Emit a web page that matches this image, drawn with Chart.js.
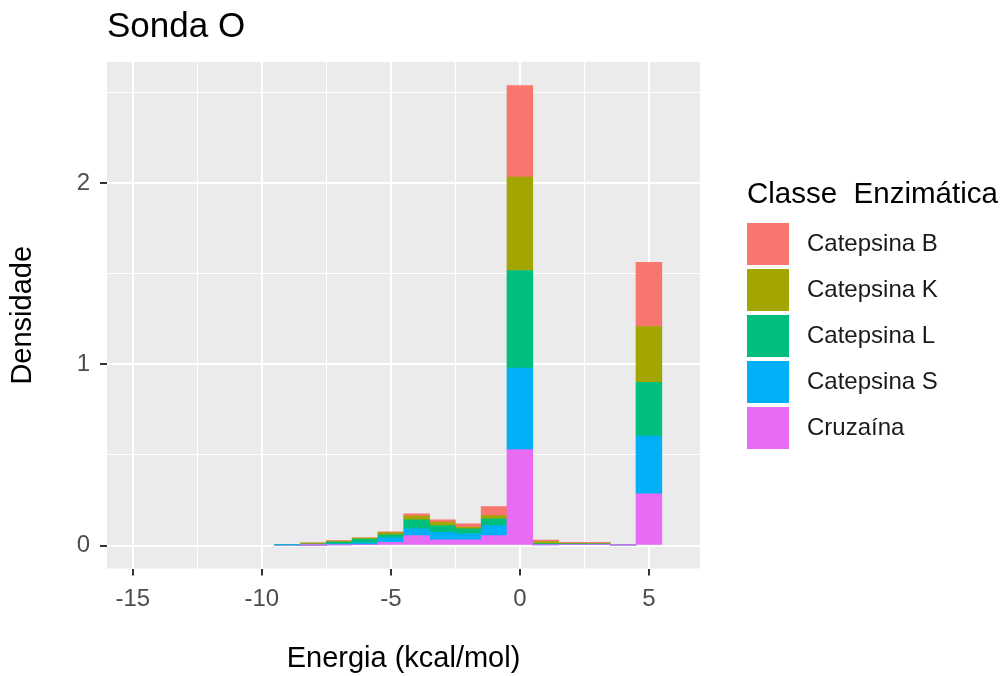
<!DOCTYPE html>
<html>
<head>
<meta charset="utf-8">
<title>Sonda O</title>
<script src="https://cdn.jsdelivr.net/npm/chart.js@4.4.1/dist/chart.umd.min.js"></script>
<style>
  html, body { margin: 0; padding: 0; background: #ffffff; }
  #wrap { width: 1005px; height: 676px; }
</style>
</head>
<body>
<div id="wrap"><canvas id="chart" width="1005" height="676"></canvas></div>
<script>
// Histogram bins (centre of each 1 kcal/mol bin)
const binCenters = [-9, -8, -7, -6, -5, -4, -3, -2, -1, 0, 1, 2, 3, 4, 5];

// Density per enzyme class, one value per bin
const catepsinaB = [0.000, 0.002, 0.002, 0.002, 0.004, 0.013, 0.012, 0.018, 0.050, 0.506, 0.008, 0.006, 0.006, 0.002, 0.355];
const catepsinaK = [0.002, 0.005, 0.006, 0.006, 0.012, 0.020, 0.020, 0.010, 0.018, 0.516, 0.012, 0.003, 0.002, 0.001, 0.308];
const catepsinaL = [0.002, 0.004, 0.010, 0.020, 0.015, 0.050, 0.037, 0.028, 0.037, 0.539, 0.004, 0.002, 0.002, 0.001, 0.298];
const catepsinaS = [0.002, 0.003, 0.006, 0.010, 0.027, 0.037, 0.042, 0.033, 0.055, 0.450, 0.003, 0.002, 0.002, 0.001, 0.318];
const cruzaina   = [0.000, 0.001, 0.003, 0.005, 0.017, 0.055, 0.031, 0.031, 0.055, 0.530, 0.003, 0.005, 0.005, 0.002, 0.286];

const seriesNames  = ['Catepsina B', 'Catepsina K', 'Catepsina L', 'Catepsina S', 'Cruzaína'];
const seriesValues = [catepsinaB, catepsinaK, catepsinaL, catepsinaS, cruzaina];
const seriesColors = ['#F8766D', '#A3A500', '#00BF7D', '#00B0F6', '#E76BF3'];

// Axis ticks: labelled (major) and unlabelled grid-only (minor)
const xMajorTicks = [-15, -10, -5, 0, 5];
const xMinorTicks = [-12.5, -7.5, -2.5, 2.5];
const yMajorTicks = [0, 1, 2];
const yMinorTicks = [0.5, 1.5, 2.5];

const FONT = '"Liberation Sans", Arial, Helvetica, sans-serif';
Chart.defaults.font.family = FONT;

const n = seriesNames.length;
const datasets = seriesNames.map((name, i) => ({
  label: name,
  data: binCenters.map((x, j) => ({ x: x, y: seriesValues[i][j] })),
  backgroundColor: seriesColors[i],
  borderWidth: 0,
  barPercentage: 1.0,
  categoryPercentage: 1.0,
  // first class sits on top of the stack
  order: n - 1 - i
}));

const isMajor = (list, v) => list.some(t => Math.abs(t - v) < 1e-9);

// grey panel behind the grid
const panelBackground = {
  id: 'panelBackground',
  beforeDraw(chart) {
    const { ctx, chartArea } = chart;
    ctx.save();
    ctx.fillStyle = '#EBEBEB';
    ctx.fillRect(chartArea.left, chartArea.top, chartArea.right - chartArea.left, chartArea.bottom - chartArea.top);
    ctx.restore();
  }
};

// legend with title and square keys on the right
const classLegend = {
  id: 'classLegend',
  afterDraw(chart) {
    const { ctx } = chart;
    const x0 = 747, keySize = 42, step = 46, firstTop = 223;
    ctx.save();
    ctx.textAlign = 'left';
    ctx.textBaseline = 'middle';
    ctx.fillStyle = '#000000';
    ctx.font = '29.5px ' + FONT;
    ctx.fillText('Classe  Enzimática', x0, 195);
    ctx.font = '24px ' + FONT;
    chart.data.datasets.forEach((ds, i) => {
      const top = firstTop + i * step;
      ctx.fillStyle = ds.backgroundColor;
      ctx.fillRect(x0, top, keySize, keySize);
      ctx.fillStyle = '#1A1A1A';
      ctx.fillText(ds.label, 807, top + keySize / 2);
    });
    ctx.restore();
  }
};

new Chart(document.getElementById('chart'), {
  type: 'bar',
  data: { datasets: datasets },
  plugins: [panelBackground, classLegend],
  options: {
    responsive: false,
    animation: false,
    devicePixelRatio: 1,
    layout: { padding: { left: 0, right: 305, top: 0, bottom: 0 } },
    plugins: {
      legend: { display: false },
      tooltip: { enabled: false },
      title: {
        display: true,
        text: 'Sonda O',
        align: 'start',
        fullSize: false,
        color: '#000000',
        font: { size: 35, weight: 'normal' },
        padding: { top: 6, bottom: 14 }
      }
    },
    scales: {
      x: {
        type: 'linear',
        min: -16.0,
        max: 6.98,
        offset: false,
        stacked: true,
        afterBuildTicks(scale) {
          scale.ticks = [...xMajorTicks, ...xMinorTicks].sort((a, b) => a - b).map(v => ({ value: v }));
        },
        afterFit(scale) { scale.height = 107.5; },
        border: { display: false },
        grid: {
          offset: false,
          color: '#FFFFFF',
          lineWidth: c => (c.tick && isMajor(xMajorTicks, c.tick.value)) ? 2 : 1,
          drawTicks: true,
          tickLength: 7,
          tickWidth: 2,
          tickColor: c => (c.tick && isMajor(xMajorTicks, c.tick.value)) ? '#333333' : 'rgba(0,0,0,0)'
        },
        ticks: {
          autoSkip: false,
          maxRotation: 0,
          padding: 9,
          color: '#4D4D4D',
          font: { size: 24 },
          callback: v => isMajor(xMajorTicks, v) ? String(v) : ''
        },
        title: {
          display: true,
          text: 'Energia (kcal/mol)',
          color: '#000000',
          font: { size: 29 },
          padding: { top: 0, bottom: 0 }
        }
      },
      y: {
        type: 'linear',
        min: -0.127,
        max: 2.671,
        stacked: true,
        afterBuildTicks(scale) {
          scale.ticks = [...yMajorTicks, ...yMinorTicks].sort((a, b) => a - b).map(v => ({ value: v }));
        },
        afterFit(scale) { scale.width = 107; },
        border: { display: false },
        grid: {
          color: '#FFFFFF',
          lineWidth: c => (c.tick && isMajor(yMajorTicks, c.tick.value)) ? 2 : 1,
          drawTicks: true,
          tickLength: 7,
          tickWidth: 2,
          tickColor: c => (c.tick && isMajor(yMajorTicks, c.tick.value)) ? '#333333' : 'rgba(0,0,0,0)'
        },
        ticks: {
          autoSkip: false,
          padding: 10,
          color: '#4D4D4D',
          font: { size: 24 },
          callback: v => isMajor(yMajorTicks, v) ? String(v) : ''
        },
        title: {
          display: true,
          text: 'Densidade',
          color: '#000000',
          font: { size: 29 },
          padding: { top: 6, bottom: 0 }
        }
      }
    }
  }
});
</script>
</body>
</html>
